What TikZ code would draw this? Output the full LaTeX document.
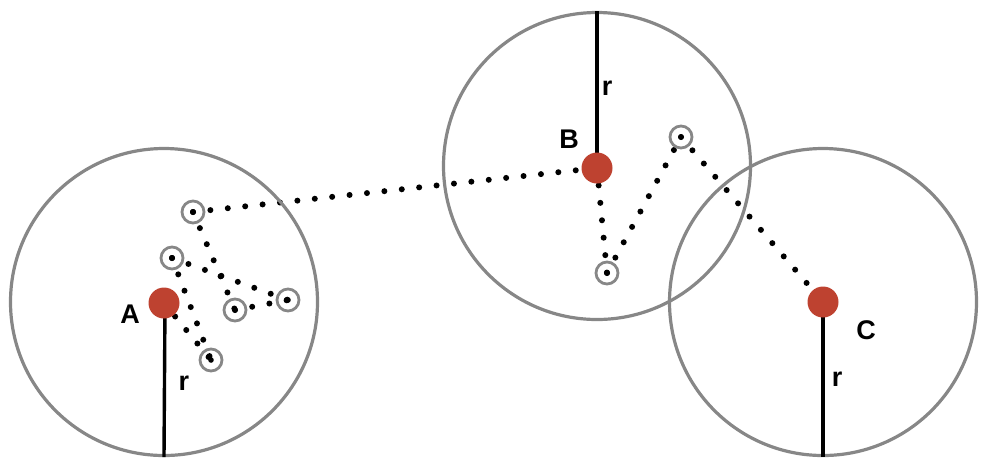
\documentclass[tikz,border=0pt]{standalone}
\usepackage{fontspec}
\setmainfont{Liberation Sans}
\usepackage{tikz}
\usetikzlibrary{positioning, backgrounds}
\definecolor{ringgrey}{RGB}{135,135,135}
\definecolor{brick}{RGB}{190,66,48}

\begin{document}
\begin{tikzpicture}[
  x=1pt, y=-1pt,
  zone/.style={circle, draw=ringgrey, line width=3.2pt, minimum size=307pt, inner sep=0pt},
  hub/.style={circle, fill=brick, minimum size=31pt, inner sep=0pt},
  probe/.style={circle, draw=ringgrey, line width=2.8pt, minimum size=22pt, inner sep=0pt,
                path picture={\fill[black] (path picture bounding box.center) circle (2.8pt);}},
  trail/.style={line width=6pt, line cap=round, dash pattern=on 0pt off 17.5pt},
  rline/.style={line width=3.4pt},
  lbl/.style={font=\fontsize{27}{29}\selectfont\bfseries, inner sep=0pt}
]
\useasboundingbox (0,0) rectangle (982,475);

% coverage circles
\node[zone] (zoneA) at (164,302) {};
\node[zone] (zoneB) at (597,166) {};
\node[zone] (zoneC) at (823,302) {};

% radius lines
\draw[rline] (165,303) -- (zoneA.south);
\draw[rline] (597,168) -- (zoneB.north);
\draw[rline] (823,302) -- (zoneC.south);

% anchors
\node[hub] (A) at (164,303) {};
\node[hub] (B) at (597,168) {};
\node[hub] (C) at (823,302) {};

% probes
\node[probe] (s1) at (193,212) {};
\node[probe] (s2) at (172,258) {};
\node[probe] (s3) at (235,310) {};
\node[probe] (s4) at (288,300) {};
\node[probe] (s5) at (211,360) {};
\node[probe] (s6) at (607,273) {};
\node[probe] (s7) at (681,137) {};

\begin{scope}[on background layer]
  \draw[trail] (s1.center) -- (B.center);
  \draw[trail] (s1.center) -- (s3.center);
  \draw[trail] (s2.center) -- (s4.center);
  \draw[trail] (s3.center) -- (s4.center);
  \draw[trail] (s2.center) -- (s5.center);
  \draw[trail] (A.center) -- (s5.center);
  \draw[trail] (B.center) -- (s6.center);
  \draw[trail] (s6.center) -- (s7.center);
  \draw[trail] (s7.center) -- (C.center);
\end{scope}

% labels
\node[lbl] (labA) at (130,314) {A};
\node[lbl] (labB) at (569,139) {B};
\node[lbl] (labC) at (866,330) {C};
\node[lbl] (rA) at (184,383) {r};
\node[lbl] (rB) at (607,88) {r};
\node[lbl] (rC) at (837,379) {r};

\end{tikzpicture}
\end{document}
